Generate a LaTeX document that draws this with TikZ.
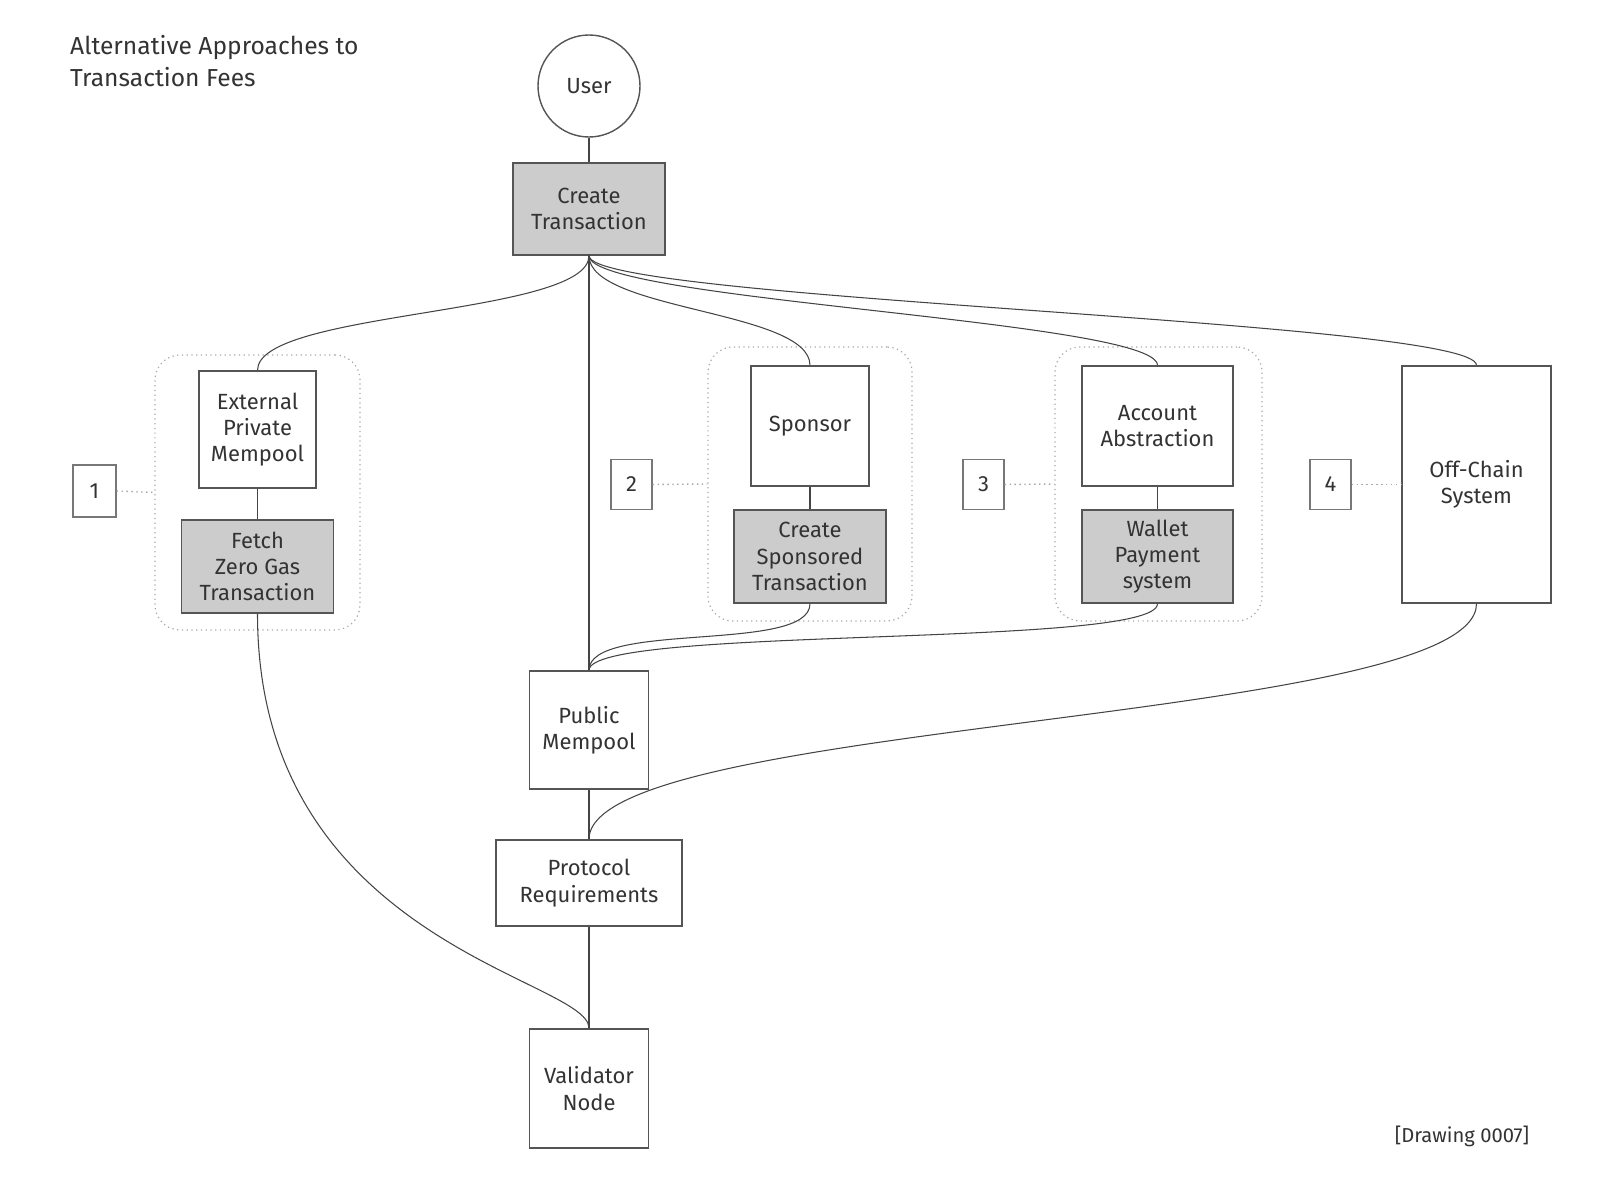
\documentclass[tikz,border=0pt]{standalone}
\usepackage{fontspec}
\setmainfont{Fira Sans}
\usepackage{tikz}
\usetikzlibrary{positioning}
\definecolor{shade}{HTML}{CCCCCC}
\definecolor{edge}{HTML}{555555}
\definecolor{wire}{HTML}{444444}
\definecolor{dots}{HTML}{A8A8A8}
\definecolor{ink}{HTML}{333333}
\tikzset{
	blk/.style={draw=edge,line width=0.8pt,fill=white,text=ink,align=center,font=\fontsize{12.5}{15}\selectfont,inner sep=2pt},
	act/.style={blk,fill=shade},
	grp/.style={draw=dots,dotted,line width=0.7pt,rounded corners=0.5cm},
	tag/.style={draw=edge!80,line width=0.7pt,fill=white,text=ink,font=\fontsize{12.5}{15}\selectfont,minimum width=0.82cm,minimum height=1cm},
	lnk/.style={draw=wire,line width=0.6pt},
	lead/.style={draw=dots,dotted,line width=0.8pt}
}
\begin{document}
\begin{tikzpicture}
	\useasboundingbox (0,0) rectangle (32,-23.84);
	\node [anchor=north west,align=left,text=ink,font=\fontsize{14}{18}\selectfont] (ttl) at (1.28,-0.58) {Alternative Approaches to\\Transaction Fees};

	\node [grp,minimum width=4.10cm,minimum height=5.50cm] (g1) at (5.15,-9.85) {};
	\node [grp,minimum width=4.08cm,minimum height=5.48cm] (g2) at (16.20,-9.68) {};
	\node [grp,minimum width=4.14cm,minimum height=5.48cm] (g3) at (23.17,-9.68) {};

	\node [blk,circle,minimum size=2.04cm] (usr) at (11.78,-1.72) {User};
	\node [act,minimum width=3.04cm,minimum height=1.84cm] (ctx) at (11.78,-4.18) {Create\\Transaction};
	\node [blk,minimum width=2.38cm,minimum height=2.36cm] (pub) at (11.78,-14.60) {Public\\Mempool};
	\node [blk,minimum width=3.72cm,minimum height=1.72cm] (prot) at (11.78,-17.66) {Protocol\\Requirements};
	\node [blk,minimum width=2.38cm,minimum height=2.38cm] (val) at (11.78,-21.77) {Validator\\Node};

	\node [blk,minimum width=2.34cm,minimum height=2.34cm] (ext) at (5.15,-8.59) {External\\Private\\Mempool};
	\node [act,minimum width=3.04cm,minimum height=1.86cm,below of=ext,node distance=2.74cm] (zgas) {Fetch\\Zero Gas\\Transaction};
	\node [blk,minimum width=2.36cm,minimum height=2.40cm] (spn) at (16.20,-8.52) {Sponsor};
	\node [act,minimum width=3.04cm,minimum height=1.86cm,below of=spn,node distance=2.61cm] (stx) {Create\\Sponsored\\Transaction};
	\node [blk,minimum width=3.02cm,minimum height=2.40cm] (aa) at (23.15,-8.52) {Account\\Abstraction};
	\node [act,minimum width=3.02cm,minimum height=1.86cm,below of=aa,node distance=2.61cm] (wps) {Wallet\\Payment\\system};
	\node [blk,minimum width=2.98cm,minimum height=4.74cm] (ofc) at (29.53,-9.69) {Off-Chain\\System};

	\node [tag,minimum width=0.86cm,minimum height=1.04cm] (n1) at (1.89,-9.82) {1};
	\node [tag] (n2) at (12.63,-9.69) {2};
	\node [tag] (n3) at (19.67,-9.69) {3};
	\node [tag] (n4) at (26.61,-9.69) {4};

	\node [text=ink,font=\fontsize{11.5}{14}\selectfont] (drw) at (29.24,-22.72) {[Drawing 0007]};

	\draw [lead] (n1.east) -- (g1.west);
	\draw [lead] (n2.east) -- (g2.west);
	\draw [lead] (n3.east) -- (g3.west);
	\draw [lead] (n4.east) -- (ofc.west);

	\draw [lnk] (usr) -- (ctx);
	\draw [lnk] (ctx.south) -- (pub.north);
	\draw [lnk] (pub) -- (prot);
	\draw [lnk] (prot) -- (val);
	\draw [lnk] (ext) -- (zgas);
	\draw [lnk] (spn) -- (stx);
	\draw [lnk] (aa) -- (wps);

	\draw [lnk] (ctx.south) to[out=-90,in=90,out distance=1.2cm,in distance=1.2cm] (ext.north);
	\draw [lnk] (ctx.south) to[out=-90,in=90,out distance=1.1cm,in distance=1.1cm] (spn.north);
	\draw [lnk] (ctx.south) to[out=-90,in=90,out distance=0.9cm,in distance=0.9cm] (aa.north);
	\draw [lnk] (ctx.south) to[out=-90,in=90,out distance=0.9cm,in distance=0.9cm] (ofc.north);
	\draw [lnk] (stx.south) to[out=-90,in=90,out distance=1cm,in distance=1cm] (pub.north);
	\draw [lnk] (wps.south) to[out=-90,in=90,out distance=0.9cm,in distance=0.9cm] (pub.north);
	\draw [lnk] (ofc.south) to[out=-90,in=90,out distance=2.4cm,in distance=2.4cm] (prot.north);
	\draw [lnk] (zgas.south) to[out=-90,in=90,out distance=6.6cm,in distance=1.0cm] (val.north);
\end{tikzpicture}
\end{document}
